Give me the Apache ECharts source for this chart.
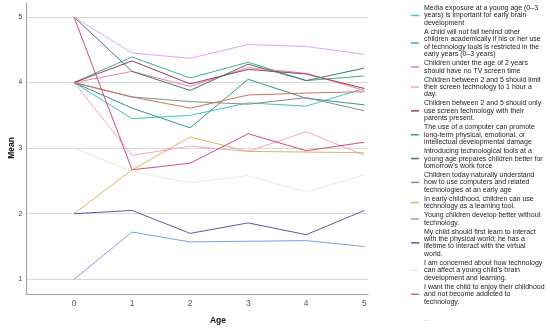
<!DOCTYPE html>
<html>
<head>
<meta charset="utf-8">
<script src="https://cdn.jsdelivr.net/npm/echarts@6/dist/echarts.min.js"></script>
<style>html,body{margin:0;padding:0;background:#fff}#c{width:550px;height:329px}</style>
</head>
<body>
<div id="c"></div>
<script>
const ages = [0, 1, 2, 3, 4, 5];
const yTicks = [1, 2, 3, 4, 5];

const names = [
  "Media exposure at a young age (0\u20133\nyears) is important for early brain\ndevelopment",
  "A child will not fall behind other\nchildren academically if his or her use\nof technology tools is restricted in the\nearly years (0\u20133 years)",
  "Children under the age of 2 years\nshould have no TV screen time",
  "Children between 2 and 5 should limit\ntheir screen technology to 1 hour a\nday.",
  "Children between 2 and 5 should only\nuse screen technology with their\nparents present.",
  "The use of a computer can promote\nlong-term physical, emotional, or\nintellectual developmental damage",
  "Introducing technological tools at a\nyoung age prepares children better for\ntomorrow\u2019s work force",
  "Children today naturally understand\nhow to use computers and related\ntechnologies at an early age",
  "In early childhood, children can use\ntechnology as a learning tool.",
  "Young children develop better without\ntechnology.",
  "My child should first learn to interact\nwith the physical world; he has a\nlifetime to interact with the virtual\nworld.",
  "I am concerned about how technology\ncan affect a young child\u2019s brain\ndevelopment and learning.",
  "I want the child to enjoy their childhood\nand not become addicted to\ntechnology.",
  "Item 14",
  "Item 15"
];

const s1  = [4, 3.45, 3.50, 3.69, 3.64, 3.91];
const s2  = [4, 4.39, 4.07, 4.31, 4.03, 4.10];
const s3  = [4, 4.17, 3.94, 4.23, 4.14, 3.88];
const s4  = [4, 2.89, 3.03, 2.95, 3.25, 2.89];
const s5  = [4, 4.33, 3.98, 4.20, 4.13, 3.91];
const s6  = [4, 3.61, 3.31, 4.05, 3.76, 3.66];
const s7  = [5, 4.17, 3.88, 4.28, 4.03, 4.22];
const s8  = [4, 3.78, 3.71, 3.67, 3.77, 3.57];
const s9  = [2, 2.67, 3.17, 2.95, 2.94, 2.93];
const s10 = [1, 1.72, 1.57, 1.58, 1.59, 1.50];
const s11 = [2, 2.05, 1.70, 1.86, 1.68, 2.05];
const s12 = [3, 2.64, 2.47, 2.58, 2.33, 2.59];
const s13 = [4, 3.78, 3.61, 3.81, 3.84, 3.86];
const s14 = [5, 4.45, 4.37, 4.58, 4.55, 4.43];
const s15 = [5, 2.67, 2.77, 3.22, 2.96, 3.09];

const values = [s1, s2, s3, s4, s5, s6, s7, s8, s9, s10, s11, s12, s13, s14, s15];
const colors = ["#3ec8b8", "#3db383", "#f08298", "#f7a3c6", "#9c3c5c", "#2f9c88", "#3f7488",
  "#8e8a8c", "#d9b862", "#809ee0", "#5a5aa0", "#f2e9df", "#cc7462", "#d9aaf0", "#d84a7a"];

const series = values.map((v, i) => ({
  name: names[i],
  type: 'line',
  data: ages.map((a, j) => [a, v[j]]),
  showSymbol: false,
  symbol: 'none',
  lineStyle: { width: 1, color: colors[i] },
  itemStyle: { color: colors[i] },
  emphasis: { disabled: true },
  z: 2
}));

const chart = echarts.init(document.getElementById('c'), null, { renderer: 'canvas' });
chart.setOption({
  animation: false,
  backgroundColor: '#fff',
  grid: { left: 26, right: 182, top: 3, bottom: 35 },
  xAxis: {
    type: 'value', min: -0.827, max: 5.064,
    axisLine: { show: true, onZero: false, lineStyle: { color: '#a0a0a0', width: 1 } },
    axisTick: { show: false },
    splitLine: { show: false },
    axisLabel: { customValues: ages, fontSize: 8.5, color: '#555', margin: 5, fontFamily: 'Liberation Sans, Arial' }
  },
  yAxis: {
    type: 'value', min: 0.776, max: 5.213,
    axisLine: { show: true, onZero: false, lineStyle: { color: '#a0a0a0', width: 1 } },
    axisTick: { show: false, customValues: yTicks },
    splitLine: { show: true, lineStyle: { color: '#d9d9d9', width: 1 } },
    axisLabel: { customValues: yTicks, fontSize: 6.5, color: '#333', margin: 4, fontFamily: 'Liberation Sans, Arial' }
  },
  legend: {
    orient: 'vertical', left: 411, top: 4.3, padding: 0,
    itemGap: 1.5, itemWidth: 8, itemHeight: 1.5, icon: 'rect',
    data: names.slice(0, 13),
    selectedMode: false,
    textStyle: { fontSize: 7.0, lineHeight: 7.45, color: '#222', fontFamily: 'Liberation Sans, Arial' }
  },
  graphic: [
    { type: 'text', x: 12, y: 148, rotation: Math.PI / 2,
      style: { text: 'Mean', fontSize: 8.5, fontWeight: 'bold', fill: '#111', align: 'center', verticalAlign: 'middle', fontFamily: 'Liberation Sans, Arial' } },
    { type: 'text', x: 218, y: 321,
      style: { text: 'Age', fontSize: 8.5, fontWeight: 'bold', fill: '#111', align: 'center', verticalAlign: 'middle', fontFamily: 'Liberation Sans, Arial' } },
    { type: 'text', x: 423, y: 319,
      style: { text: '...', fontSize: 7, fill: '#aaa', align: 'left', verticalAlign: 'middle', fontFamily: 'Liberation Sans, Arial' } }
  ],
  series: series
});
</script>
</body>
</html>
